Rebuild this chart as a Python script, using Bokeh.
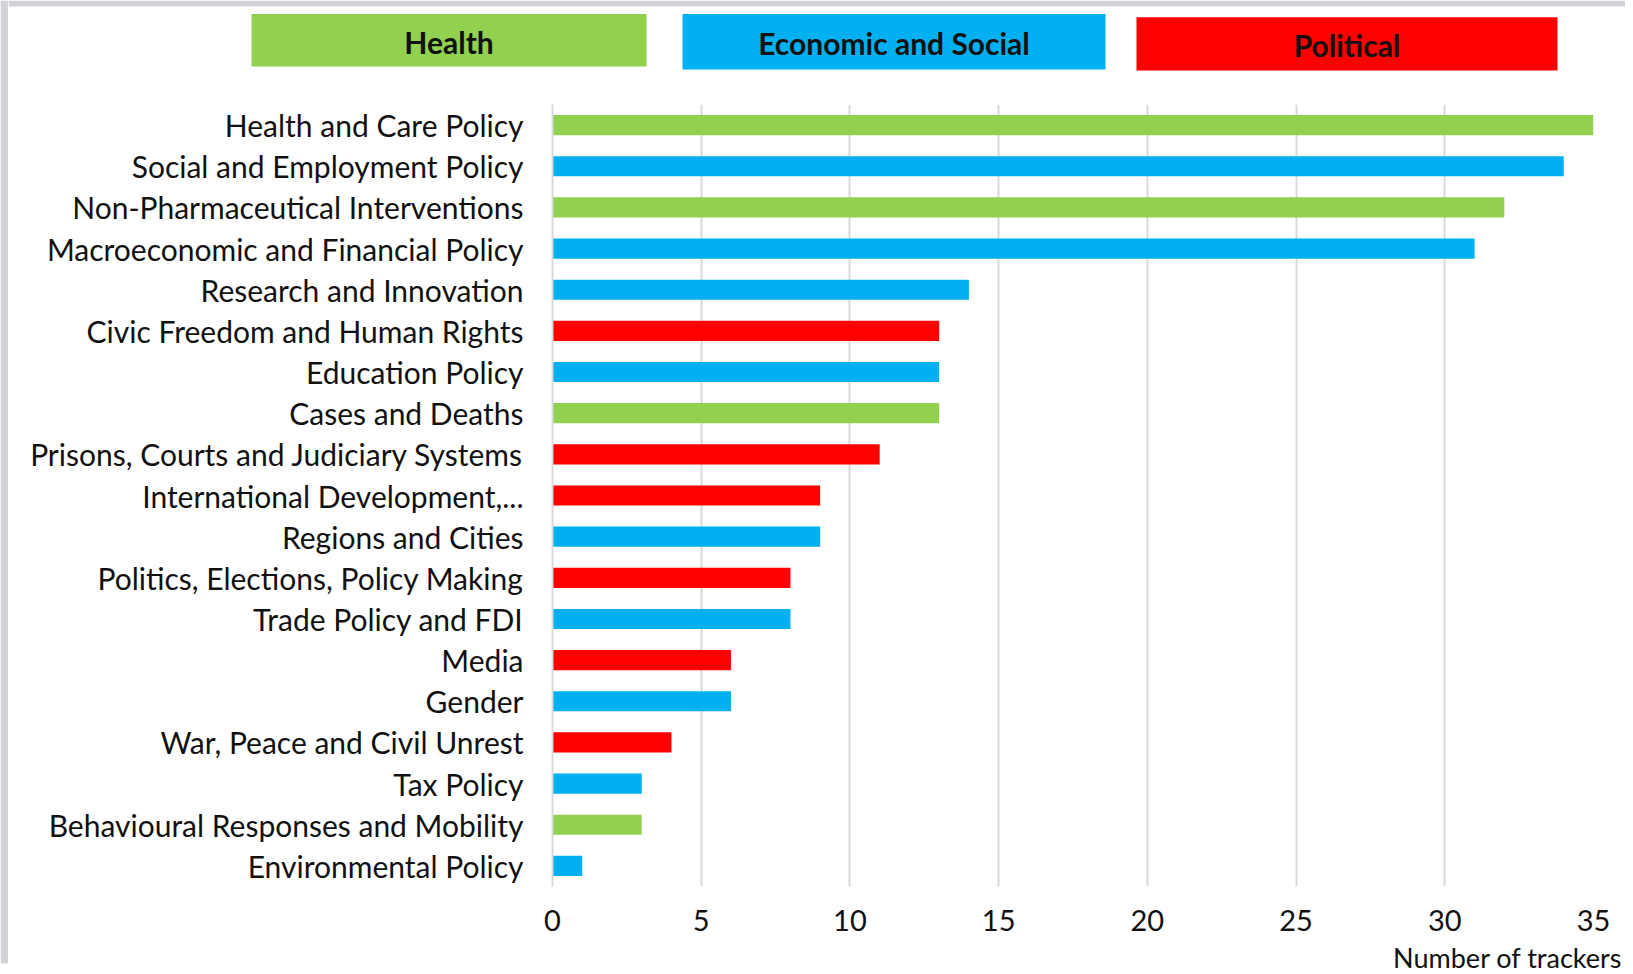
from bokeh.plotting import figure
from bokeh.models import ColumnDataSource, FactorRange, Range1d, SingleIntervalTicker
from bokeh.layouts import column, row
from bokeh.embed import file_html
from bokeh.resources import INLINE
from bokeh.core.properties import value

FONT = "Lato"

# ---- data ----
categories = [
    "Health and Care Policy",
    "Social and Employment Policy",
    "Non-Pharmaceutical Interventions",
    "Macroeconomic and Financial Policy",
    "Research and Innovation",
    "Civic Freedom and Human Rights",
    "Education Policy",
    "Cases and Deaths",
    "Prisons, Courts and Judiciary Systems",
    "International Development,...",
    "Regions and Cities",
    "Politics, Elections, Policy Making",
    "Trade Policy and FDI",
    "Media",
    "Gender",
    "War, Peace and Civil Unrest",
    "Tax Policy",
    "Behavioural Responses and Mobility",
    "Environmental Policy",
]
trackers = [35, 34, 32, 31, 14, 13, 13, 13, 11, 9, 9, 8, 8, 6, 6, 4, 3, 3, 1]
groups = ["Health", "Economic and Social", "Health", "Economic and Social",
          "Economic and Social", "Political", "Economic and Social", "Health",
          "Political", "Political", "Economic and Social", "Political",
          "Economic and Social", "Political", "Economic and Social", "Political",
          "Economic and Social", "Health", "Economic and Social"]
group_names = ["Health", "Economic and Social", "Political"]
group_colors = ["#92D050", "#00B0F0", "#FF0000"]
x_ticks_interval = 5
x_title = "Number of trackers"

color_of = dict(zip(group_names, group_colors))

TOTAL_W = 1625
TOTAL_H = 974
STRIP_W = 8
W = TOTAL_W - STRIP_W
HDR_H = 96
FOOT_H = 34
MAIN_H = TOTAL_H - HDR_H - FOOT_H
GRAY = "#D2D3D6"


def no_align(fig):
    try:
        fig.frame_align = False
    except Exception:
        pass


def bare(fig):
    no_align(fig)
    fig.axis.visible = False
    fig.grid.visible = False


# ---- left gray strip (screenshot frame) ----
strip = figure(width=STRIP_W, height=TOTAL_H, x_range=Range1d(0, STRIP_W),
               y_range=Range1d(TOTAL_H, 0), output_backend="svg",
               toolbar_location=None, min_border=0, outline_line_color=None)
bare(strip)
strip.quad(left=[0], right=[STRIP_W], top=[0], bottom=[963],
           fill_color=GRAY, line_color=None)

# ---- header boxes (layout positions only, in page pixels) ----
box_left = [251, 682, 1136]
box_right = [646, 1105, 1557]
box_top = [13.5, 13.5, 16.7]
box_bottom = [66, 69, 70]

hdr = figure(width=W, height=HDR_H, x_range=Range1d(STRIP_W, TOTAL_W),
             y_range=Range1d(HDR_H, 0),
             output_backend="svg", toolbar_location=None,
             min_border=0, outline_line_color=None)
bare(hdr)
hdr.quad(left=[STRIP_W], right=[TOTAL_W], top=[0], bottom=[6],
         fill_color=GRAY, line_color=None)
hsrc = ColumnDataSource(dict(
    name=group_names, color=group_colors,
    left=box_left, right=box_right, top=box_top, bottom=box_bottom,
    cx=[(a + b) / 2 for a, b in zip(box_left, box_right)],
    cy=[(a + b) / 2 + 1.5 for a, b in zip(box_top, box_bottom)],
))
hdr.quad(left="left", right="right", top="top", bottom="bottom",
         fill_color="color", line_color=None, source=hsrc)
hdr.text(x="cx", y="cy", text="name", source=hsrc, text_align="center",
         text_baseline="middle", text_font=value(FONT), text_font_style="bold",
         text_font_size="30px", text_color="#111111")

# ---- main bar chart ----
src = ColumnDataSource(dict(cat=categories, val=trackers,
                            color=[color_of[g] for g in groups]))

FRAME_BOTTOM = 886
p = figure(width=W, height=MAIN_H,
           y_range=FactorRange(*list(reversed(categories))),
           x_range=Range1d(0, 35),
           output_backend="svg", toolbar_location=None,
           min_border_left=552 - STRIP_W, min_border_right=32,
           min_border_top=8, min_border_bottom=HDR_H + MAIN_H - FRAME_BOTTOM,
           outline_line_color=None)
no_align(p)

p.hbar(y="cat", right="val", height=0.49, fill_color="color",
       line_color=None, source=src)

p.ygrid.visible = False
p.xgrid.grid_line_color = "#D9D9D9"
p.xgrid.grid_line_width = 2

p.xaxis.ticker = SingleIntervalTicker(interval=x_ticks_interval)
p.xaxis.axis_line_color = None
p.xaxis.major_tick_line_color = None
p.xaxis.minor_tick_line_color = None
p.xaxis.major_tick_out = 0
p.xaxis.major_label_standoff = 19
p.xaxis.major_label_text_font = FONT
p.xaxis.major_label_text_font_size = "29px"
p.xaxis.major_label_text_color = "#111111"

p.yaxis.axis_line_color = "#D9D9D9"
p.yaxis.axis_line_width = 2
p.yaxis.major_tick_line_color = None
p.yaxis.minor_tick_line_color = None
p.yaxis.major_tick_out = 0
p.yaxis.major_label_standoff = 29
p.yaxis.major_label_text_font = FONT
p.yaxis.major_label_text_font_size = "30px"
p.yaxis.major_label_text_color = "#111111"

# ---- footer with the x-axis title, right aligned ----
foot_top = TOTAL_H - FOOT_H
foot = figure(width=W, height=FOOT_H, x_range=Range1d(STRIP_W, TOTAL_W),
              y_range=Range1d(TOTAL_H, foot_top),
              output_backend="svg", toolbar_location=None,
              min_border=0, outline_line_color=None)
bare(foot)
foot.text(x=[1622], y=[foot_top + 17], text=[x_title], text_align="right",
          text_baseline="middle", text_font=value(FONT),
          text_font_size="27px", text_color="#111111")

layout = row(strip, column(hdr, p, foot, spacing=0), spacing=0)
open("out.html", "w").write(file_html(layout, INLINE))
